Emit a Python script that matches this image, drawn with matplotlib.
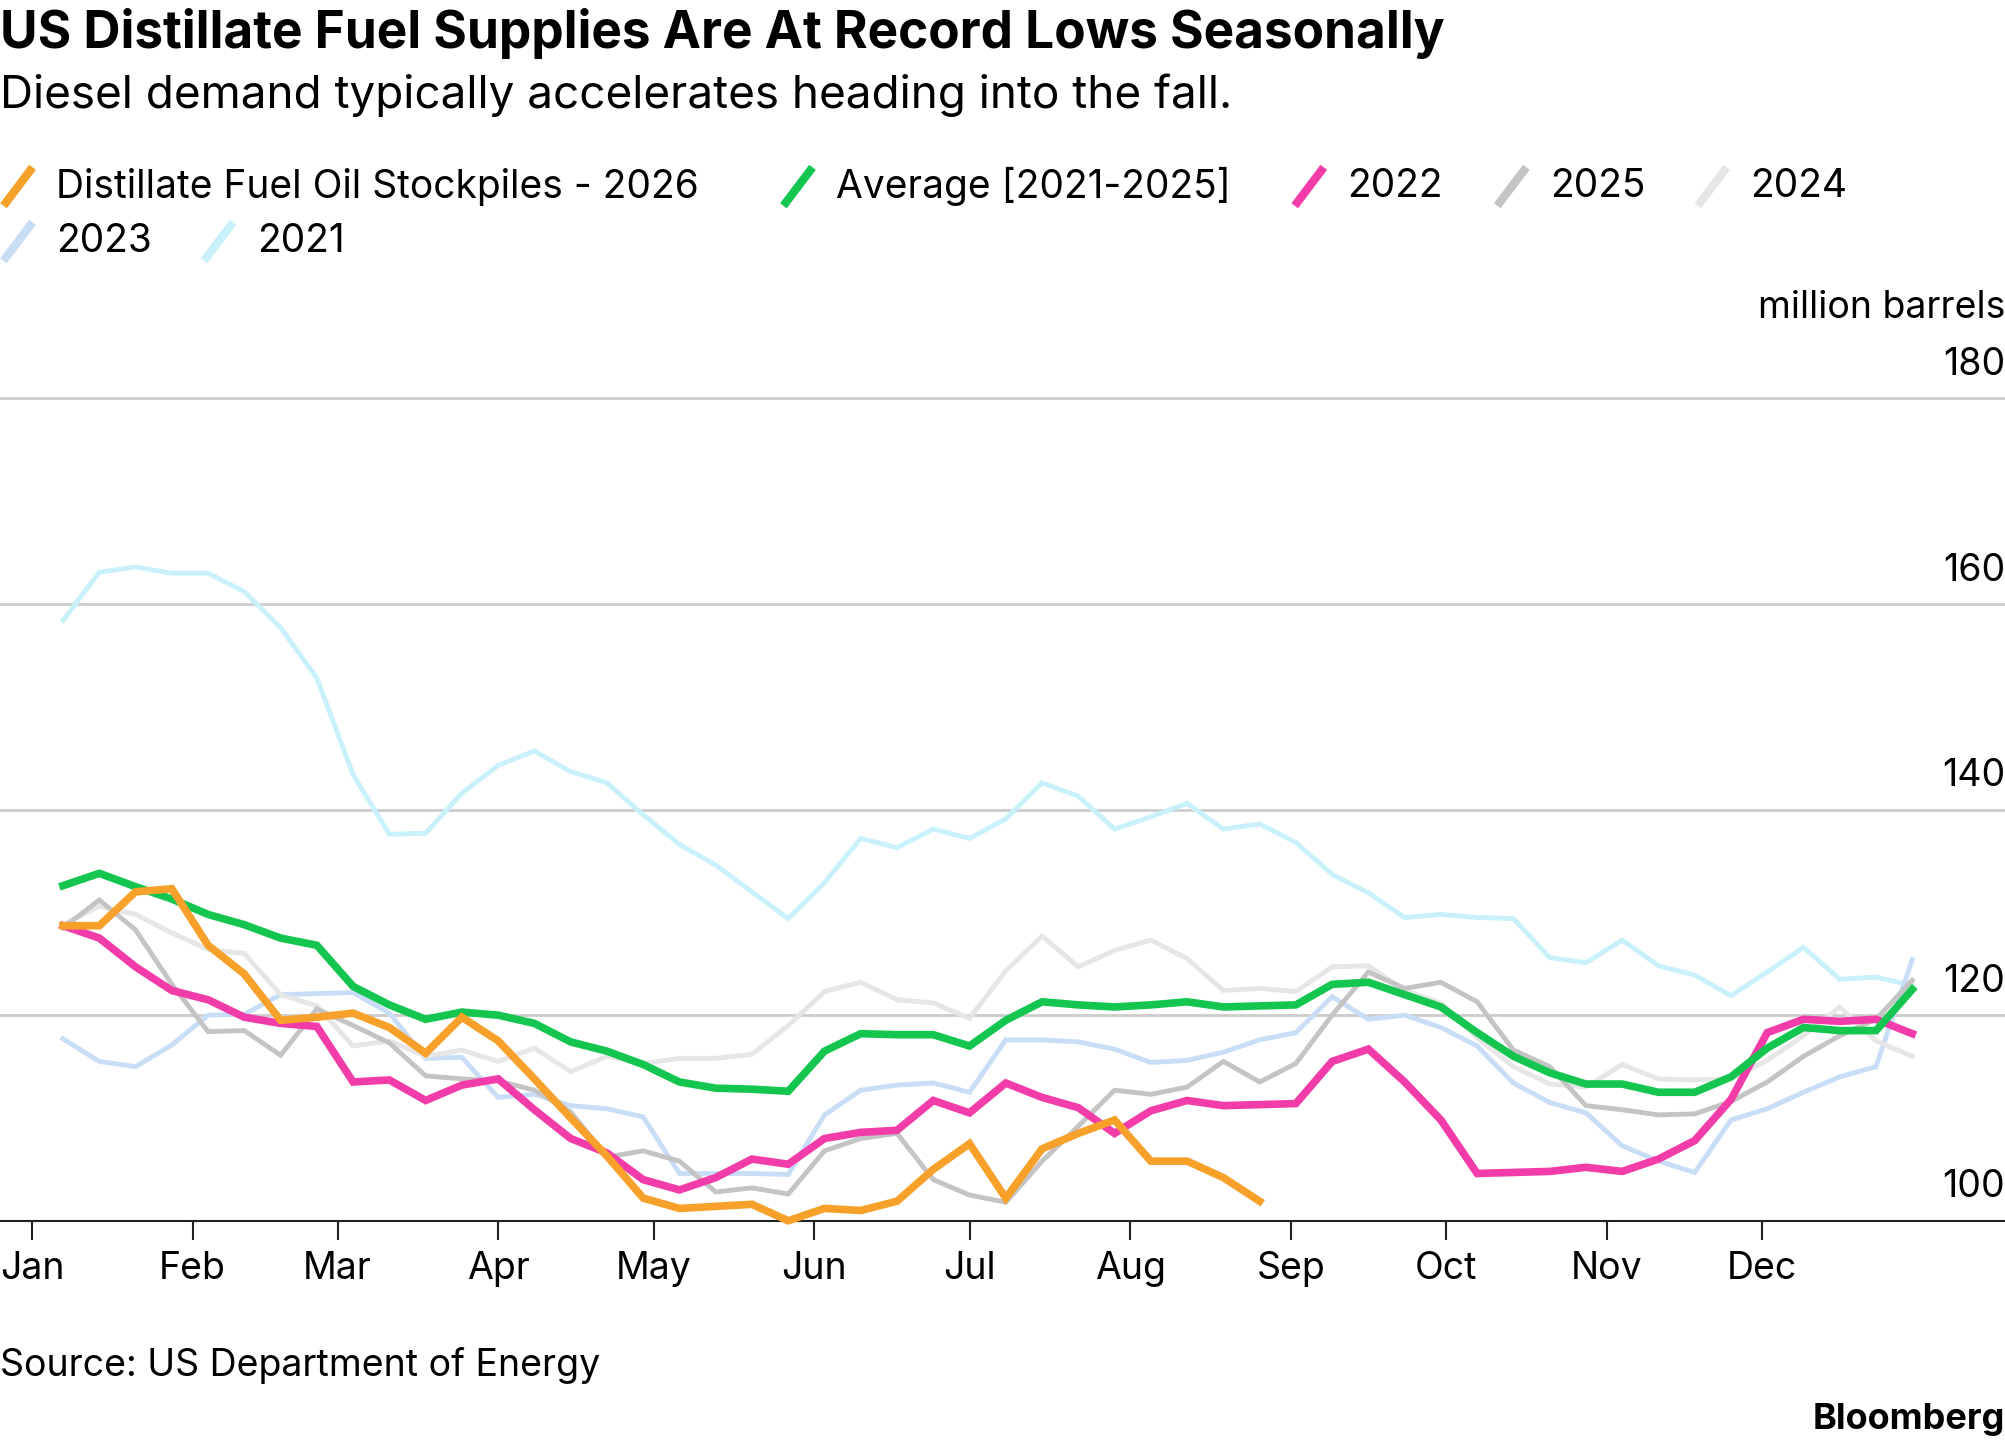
import matplotlib.pyplot as plt
from matplotlib.lines import Line2D
import numpy as np

plt.rcParams['font.family'] = ['Inter', 'DejaVu Sans']

days = [7 + 7 * i for i in range(52)]
month_days = [1, 32, 60, 91, 121, 152, 182, 213, 244, 274, 305, 335]
month_labels = ['Jan', 'Feb', 'Mar', 'Apr', 'May', 'Jun', 'Jul', 'Aug', 'Sep', 'Oct', 'Nov', 'Dec']

y2021 = [158.4, 163.1, 163.6, 163, 163, 161.2, 157.7, 152.8, 143.4, 137.6, 137.7, 141.6, 144.3, 145.7,
         143.7, 142.6, 139.5, 136.6, 134.6, 132, 129.4, 132.9, 137.2, 136.3, 138.1, 137.2, 139.1, 142.6,
         141.3, 138.1, 139.3, 140.6, 138.1, 138.6, 136.8, 133.7, 131.9, 129.5, 129.8, 129.5, 129.4, 125.6,
         125.1, 127.3, 124.8, 123.9, 121.9, 124.2, 126.6, 123.5, 123.7, 122.9]
y2023 = [117.7, 115.5, 115, 117.1, 120, 120.1, 122, 122.1, 122.2, 120.2, 115.8, 115.9, 112, 112.3, 111.2,
         110.9, 110.1, 104.6, 104.6, 104.6, 104.5, 110.3, 112.7, 113.2, 113.4, 112.5, 117.6, 117.6, 117.4,
         116.7, 115.4, 115.6, 116.4, 117.6, 118.3, 121.8, 119.6, 120, 118.8, 117, 113.4, 111.5, 110.5,
         107.3, 105.8, 104.7, 109.8, 110.9, 112.5, 114, 115, 125.4]
y2024 = [128.8, 130.6, 129.8, 128, 126.4, 126, 122, 120.9, 117, 117.5, 116, 116.6, 115.5, 116.8, 114.5,
         116, 115.3, 115.8, 115.8, 116.2, 119, 122.3, 123.2, 121.5, 121.2, 119.7, 124.3, 127.7, 124.7,
         126.3, 127.3, 125.5, 122.4, 122.6, 122.3, 124.7, 124.8, 122.4, 121.2, 117.8, 115, 113.3, 113,
         115.2, 113.8, 113.7, 113.8, 115.6, 118, 120.8, 117.5, 116]
y2025 = [128.5, 131.2, 128.3, 123, 118.4, 118.5, 116.1, 120.6, 119, 117.3, 114.1, 113.8, 113.6, 112.7,
         110.6, 106.2, 106.8, 105.8, 102.8, 103.2, 102.6, 106.8, 108, 108.5, 104, 102.5, 101.8, 105.8,
         109.2, 112.7, 112.3, 113, 115.5, 113.5, 115.3, 120, 124.2, 122.6, 123.2, 121.3, 116.6, 115,
         111.2, 110.8, 110.3, 110.4, 111.6, 113.5, 116, 118, 119.6, 123.4]
y2022 = [128.7, 127.5, 124.7, 122.4, 121.5, 119.8, 119.2, 118.9, 113.5, 113.7, 111.7, 113.2, 113.8, 110.8,
         108, 106.6, 104, 103, 104.2, 106, 105.5, 108, 108.6, 108.8, 111.7, 110.5, 113.4, 112, 111,
         108.5, 110.7, 111.7, 111.2, 111.3, 111.4, 115.5, 116.7, 113.5, 109.8, 104.6, 104.7, 104.8,
         105.2, 104.8, 106, 107.8, 111.8, 118.3, 119.6, 119.4, 119.6, 118.2]
avg = [132.6, 133.8, 132.5, 131.3, 129.8, 128.8, 127.5, 126.8, 122.8, 121, 119.6, 120.3, 120, 119.2,
       117.4, 116.5, 115.2, 113.5, 112.9, 112.8, 112.6, 116.5, 118.2, 118.1, 118.1, 117, 119.5, 121.3,
       121, 120.8, 121, 121.3, 120.8, 120.9, 121, 123, 123.2, 122, 120.8, 118.3, 116, 114.4, 113.3,
       113.3, 112.5, 112.5, 114, 116.8, 118.8, 118.5, 118.5, 122.5]
y2026 = [128.7, 128.7, 132, 132.3, 126.8, 124, 119.5, 119.8, 120.2, 118.8, 116.3, 119.8, 117.5, 113.8,
         110, 106.3, 102.2, 101.2, 101.4, 101.6, 100, 101.2, 101, 101.9, 105, 107.5, 102.2, 107, 108.5,
         109.8, 105.8, 105.8, 104.2, 101.9]

series = [
    ('2021', y2021, '#c9f1fb', 3.5),
    ('2023', y2023, '#c8def6', 3.5),
    ('2024', y2024, '#e6e6e6', 3.5),
    ('2025', y2025, '#c4c4c4', 3.5),
    ('2022', y2022, '#f23ca9', 5.5),
    ('Average [2021-2025]', avg, '#14c64f', 5.5),
    ('Distillate Fuel Oil Stockpiles - 2026', y2026, '#f7a02a', 5.5),
]

fig = plt.figure(figsize=(20.05, 14.46), dpi=100)
ax = fig.add_axes([0.0, 0.138, 1.0, 0.622])
ax.set_xlim(-5.17, 381.9)
ax.set_ylim(97.5, 185)

for v in [120, 140, 160, 180]:
    ax.axhline(v, color='#cccccc', lw=2, zorder=0)
for v in [100, 120, 140, 160, 180]:
    ax.text(1.0, v + 1.5, str(v), transform=ax.get_yaxis_transform(), ha='right', va='bottom',
            fontsize=27)
ax.text(1.0, 187, 'million barrels', transform=ax.get_yaxis_transform(), ha='right', va='bottom',
        fontsize=27, clip_on=False)

for name, ys, col, lw in series:
    ax.plot(days[:len(ys)], ys, color=col, lw=lw, solid_joinstyle='miter', zorder=3)

for s in ['top', 'left', 'right']:
    ax.spines[s].set_visible(False)
ax.spines['bottom'].set_position(('data', 100))
ax.spines['bottom'].set_color('#222222')
ax.spines['bottom'].set_linewidth(1.5)
ax.set_yticks([])
ax.set_xticks(month_days)
ax.set_xticklabels(month_labels, fontsize=27)
ax.tick_params(axis='x', length=14, width=1.5, color='#222222', pad=8)

fig.text(0.0, 0.977, 'US Distillate Fuel Supplies Are At Record Lows Seasonally', fontsize=37,
         fontweight='bold', va='center')
fig.text(0.0, 0.934, 'Diesel demand typically accelerates heading into the fall.', fontsize=33,
         va='center')

legend_rows = [
    [('Distillate Fuel Oil Stockpiles - 2026', '#f7a02a', 0.003),
     ('Average [2021-2025]', '#14c64f', 0.392),
     ('2022', '#f23ca9', 0.647),
     ('2025', '#c4c4c4', 0.748),
     ('2024', '#e6e6e6', 0.848)],
    [('2023', '#c8def6', 0.003), ('2021', '#c9f1fb', 0.103)],
]
for r, row in enumerate(legend_rows):
    yc = 0.871 - r * 0.038
    for label, col, x0 in row:
        fig.add_artist(Line2D([x0, x0 + 0.012], [yc - 0.011, yc + 0.011], color=col, lw=6,
                              transform=fig.transFigure))
        fig.text(x0 + 0.025, yc, label, fontsize=28, va='center')

fig.text(0.0, 0.056, 'Source: US Department of Energy', fontsize=27, va='center')
fig.text(1.0, 0.018, 'Bloomberg', fontsize=26, fontweight='bold', ha='right', va='center')

fig.savefig('out.png', dpi=100)
